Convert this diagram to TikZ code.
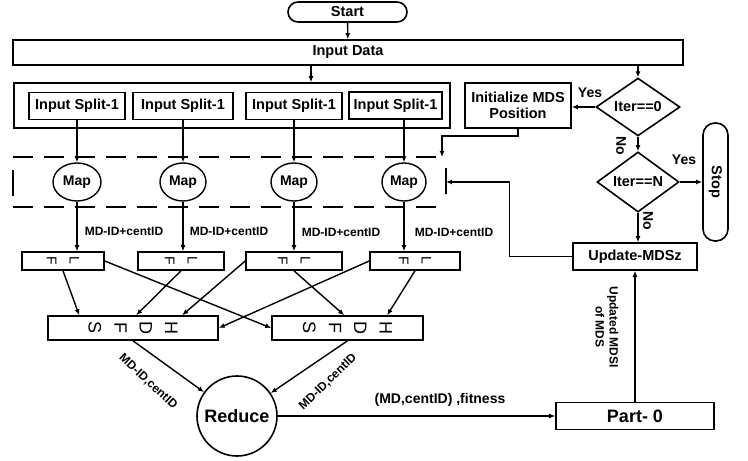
\documentclass[tikz,border=0pt]{standalone}
\usepackage{fontspec}
\setmainfont{Liberation Sans}
\usepackage{graphicx}
\usetikzlibrary{shapes.geometric,arrows.meta,calc}

\newcommand{\rl}[1]{\rotatebox[origin=c]{-90}{#1}}

\tikzset{
  blk/.style={draw,line width=1.6pt,inner sep=1pt,font=\bfseries\fontsize{14.5}{16}\selectfont},
  arr/.style={-{Latex[length=6pt,width=5pt]},line width=1.4pt},
  txt/.style={font=\bfseries\fontsize{14}{16}\selectfont,inner sep=0pt},
  sml/.style={font=\bfseries\fontsize{12}{13}\selectfont,inner sep=0pt},
  dec/.style={blk,diamond,inner sep=0pt},
  spl/.style={blk,line width=1.1pt,minimum height=27pt},
  mapc/.style={draw,ellipse,line width=1.4pt,inner sep=0pt,minimum width=48pt,minimum height=38pt,font=\bfseries\fontsize{14}{16}\selectfont},
  lfb/.style={blk,minimum height=18pt,inner sep=0pt,font=\fontsize{14}{14}\selectfont},
  hdb/.style={blk,minimum height=24pt,inner sep=0pt,font=\fontsize{18}{18}\selectfont},
  dsh/.style={line width=1.6pt,dash pattern=on 20pt off 11pt}
}

\begin{document}
\begin{tikzpicture}[x=1pt,y=-1pt]
\useasboundingbox (0,0) rectangle (748,461);

% top
\node[blk,rounded corners=10pt,minimum width=119pt,minimum height=20pt] (start) at (347.5,12) {Start};
\node[blk,minimum width=670pt,minimum height=25pt] (data) at (348,52.5) {Input Data};
\draw[arr] (start) -- (data);

% splits
\node[blk,minimum width=436pt,minimum height=45pt] (sp) at (232,105.5) {};
\node[spl,minimum width=96pt] (s1) at (77,106) {Input Split-1};
\node[spl,minimum width=100pt] (s2) at (183,106) {Input Split-1};
\node[spl,minimum width=96pt] (s3) at (294,106) {Input Split-1};
\node[spl,minimum width=93pt] (s4) at (395.5,105.5) {Input Split-1};
\draw[arr] ($(data.south)+(-37,0)$) -- ($(sp.north)+(79,0)$);

% map stage
\draw[dsh] (13,157) -- (447,157);
\draw[dsh] (13,207) -- (447,207);
\draw[line width=1.6pt] (13,170) -- (13,196);
\draw[line width=1.6pt] (446,168) -- (446,194);
\coordinate (dt) at (442,157);
\coordinate (dr) at (446,182);

\node[mapc] (m1) at (77,182) {Map};
\node[mapc,minimum width=46pt] (m2) at (183,182) {Map};
\node[mapc,minimum width=46pt] (m3) at (294,182) {Map};
\node[mapc,minimum width=44pt] (m4) at (404,182) {Map};
\draw[arr] (s1) -- (m1);
\draw[arr] (s2) -- (m2);
\draw[arr] (s3) -- (m3);
\draw[arr] (s4.south -| m4) -- (m4);

% local files
\node[lfb,minimum width=82pt] (lf1) at (63,261) {\rl{F}\hspace{13pt}\rl{L}};
\node[lfb,minimum width=86pt] (lf2) at (181,261) {\rl{F}\hspace{13pt}\rl{L}};
\node[lfb,minimum width=96pt] (lf3) at (294,261) {\rl{F}\hspace{13pt}\rl{L}};
\node[lfb,minimum width=90pt] (lf4) at (415,261) {\rl{F}\hspace{13pt}\rl{L}};
\draw[arr] (m1) -- (m1 |- lf1.north);
\draw[arr] (m2) -- (m2 |- lf2.north);
\draw[arr] (m3) -- (m3 |- lf3.north);
\draw[arr] (m4) -- (m4 |- lf4.north);
\node[sml] at (124,231) {MD-ID+centID};
\node[sml] at (229,231) {MD-ID+centID};
\node[sml] at (341,232) {MD-ID+centID};
\node[sml] at (454,232) {MD-ID+centID};

% hdfs
\node[hdb,minimum width=170pt] (h1) at (133,328) {\rl{S}\hspace{13pt}\rl{F}\hspace{13pt}\rl{D}\hspace{13pt}\rl{H}};
\node[hdb,minimum width=151pt] (h2) at (347.5,328) {\rl{S}\hspace{13pt}\rl{F}\hspace{13pt}\rl{D}\hspace{13pt}\rl{H}};
\draw[arr] (lf1.south) -- ($(h1.north west)+(32,0)$);
\draw[arr] (lf1.east) -- (h2.west);
\draw[arr] (lf2.south) -- ($(h1.north west)+(89,0)$);
\draw[arr] (lf3.west) -- ($(h1.north west)+(135,0)$);
\draw[arr] (lf3.south) -- ($(h2.north west)+(73,0)$);
\draw[arr] (lf4.west) -- (h1.east);
\draw[arr] (lf4.south) -- ($(h2.north west)+(116,0)$);

% reduce
\node[draw,circle,line width=1.6pt,minimum size=80pt,inner sep=0pt,font=\bfseries\fontsize{18}{20}\selectfont] (red) at (237,416) {Reduce};
\draw[arr] (h1.south) -- (red);
\draw[arr] (h2.south) -- (red);
\node[sml,rotate=-43] at (148,382) {MD-ID,centID};
\node[sml,rotate=44] at (328,382) {MD-ID,centID};

% right column
\node[blk,minimum width=158pt,minimum height=27pt,font=\bfseries\fontsize{18}{20}\selectfont] (part) at (635,416) {Part- 0};
\draw[arr] (red) -- (part);
\node[txt] at (440,400) {(MD,centID) ,fitness};

\node[blk,minimum width=124pt,minimum height=27pt] (upd) at (635,256.5) {Update-MDSz};
\draw[arr] (part) -- (upd);
\node[sml,rotate=-90,align=center,font=\bfseries\fontsize{12}{14}\selectfont] at (607,327) {Updated MDSI\\of MDS};
\draw[arr] (upd.west) -- ++(-63,0) |- (dr);

\node[dec,minimum width=84pt,minimum height=38pt] (it0) at (638,107) {Iter==0};
\node[dec,minimum width=82pt,minimum height=42pt] (itN) at (638,182) {Iter==N};
\node[blk,align=center,minimum width=106pt,minimum height=45pt] (init) at (518,105.5) {Initialize MDS\\Position};
\node[blk,rounded corners=12pt,rotate=-90,minimum width=118pt,minimum height=25pt] (stop) at (715.5,182) {Stop};

\draw[arr] (data.south -| it0) -- (it0);
\draw[arr] (it0.west) -- (it0.west -| init.east);
\draw[arr] (init.south) -- ++(0,7) -| (dt);
\draw[arr] (it0) -- (itN);
\draw[arr] (itN) -- (stop);
\draw[arr] (itN.south) -- (itN.south |- upd.north);
\node[txt] at (590,93) {Yes};
\node[txt] at (684,160) {Yes};
\node[txt,rotate=-90] at (621,146) {No};
\node[txt,rotate=-90] at (648,221) {No};
\end{tikzpicture}
\end{document}
